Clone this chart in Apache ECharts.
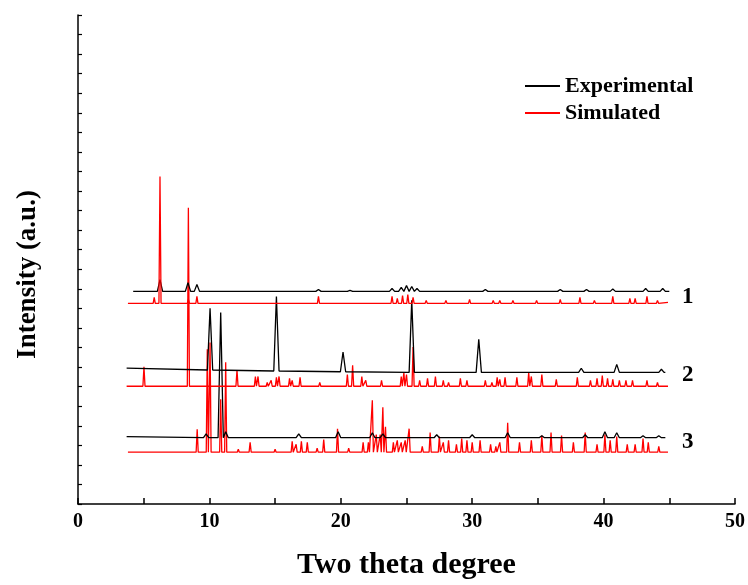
<!DOCTYPE html>
<html>
<head>
<meta charset="utf-8">
<script src="https://cdn.jsdelivr.net/npm/echarts@6/dist/echarts.min.js"></script>
<style>html,body{margin:0;padding:0;background:#fff}#c{width:748px;height:585px}</style>
</head>
<body>
<div id="c"></div>
<script>
// ---- data (2θ in degrees, intensity in arbitrary units) ----
const traceNames = ['1', '2', '3'];
const seriesNames = ['Experimental', 'Simulated'];

// stacking offsets (baseline of each trace)
const exp1Offset = 10.87, sim1Offset = 10.26;
const exp2Offset = 6.73,  sim2Offset = 6.02;
const exp3Offset = 3.39,  sim3Offset = 2.65;

// start / end of each trace: [2θ, value above offset]
const exp1Range = [[4.2, 0], [45.0, 0]];
const sim1Range = [[3.8, 0], [44.9, 0.05]];
const exp2Range = [[3.7, 0.22], [44.7, 0]];
const sim2Range = [[3.7, 0], [44.9, 0]];
const exp3Range = [[3.7, 0.05], [44.7, 0]];
const sim3Range = [[3.8, 0], [44.9, 0]];

// peaks: [2θ, height above offset, (optional) local baseline above offset]
const exp1Peaks = [[6.24, 0.6], [8.37, 0.45], [9.05, 0.35], [18.3, 0.1], [20.7, 0.05], [23.9, 0.15], [24.6, 0.2],
  [25.0, 0.3], [25.4, 0.25], [25.8, 0.15], [31.0, 0.1], [36.7, 0.1], [38.7, 0.1], [40.7, 0.12], [43.2, 0.15], [44.5, 0.15]];
const sim1Peaks = [[5.3, 0.1], [5.8, 0.3], [6.24, 6.48], [8.4, 0.2], [9.05, 0.35], [18.3, 0.35], [20.2, 0.1],
  [23.9, 0.35], [24.3, 0.25], [24.7, 0.4], [25.1, 0.45], [25.5, 0.3], [26.5, 0.15], [28.0, 0.15], [29.8, 0.2],
  [31.6, 0.15], [32.1, 0.15], [33.1, 0.15], [34.9, 0.15], [36.7, 0.2], [38.2, 0.3], [39.3, 0.15], [40.7, 0.35],
  [42.0, 0.25], [42.4, 0.25], [43.3, 0.35], [44.1, 0.15]];
const exp2Peaks = [[10.05, 3.27, 0.12], [15.1, 3.88, 0.07], [20.17, 1.04, 0.03], [25.4, 3.68, 0.0],
  [30.5, 1.69, 0.0], [38.3, 0.21, 0.0], [41.0, 0.41, 0.0], [44.4, 0.16, 0.0]];
const sim2Peaks = [[5.02, 1.0], [8.4, 9.13], [12.1, 0.83], [13.5, 0.5], [13.7, 0.5], [14.4, 0.2], [14.7, 0.3],
  [15.1, 0.45], [15.3, 0.5], [16.1, 0.4], [16.3, 0.3], [16.9, 0.45], [18.4, 0.2], [20.5, 0.6], [20.9, 1.07],
  [21.6, 0.5], [21.9, 0.3], [23.1, 0.3], [24.6, 0.5], [24.8, 0.7], [25.0, 0.6], [25.5, 2.0], [26.0, 0.3],
  [26.6, 0.4], [27.2, 0.5], [27.8, 0.3], [28.2, 0.2], [29.1, 0.4], [29.6, 0.3], [31.0, 0.3], [31.5, 0.2],
  [31.9, 0.45], [32.1, 0.35], [32.5, 0.45], [33.4, 0.45], [34.3, 0.7], [34.5, 0.5], [35.3, 0.6], [36.4, 0.35],
  [38.0, 0.45], [39.0, 0.3], [39.5, 0.4], [39.9, 0.55], [40.3, 0.4], [40.7, 0.35], [41.2, 0.3], [41.7, 0.3],
  [42.2, 0.3], [43.3, 0.3], [44.1, 0.2]];
const exp3Peaks = [[9.75, 0.2], [10.86, 6.4], [11.24, 0.3], [16.8, 0.2], [19.8, 0.3], [22.4, 0.25], [23.2, 0.2],
  [27.3, 0.15], [30.0, 0.15], [32.7, 0.25], [35.3, 0.1], [38.6, 0.15], [40.1, 0.3], [41.0, 0.25], [43.0, 0.1],
  [44.2, 0.1]];
const sim3Peaks = [[9.07, 1.17], [9.84, 5.26], [10.05, 5.6], [10.86, 2.7], [11.24, 4.6], [12.2, 0.15], [13.1, 0.5],
  [15.0, 0.15], [16.3, 0.55], [16.6, 0.4], [17.0, 0.55], [17.45, 0.5], [18.2, 0.2], [18.7, 0.65], [19.75, 1.2],
  [20.6, 0.2], [21.7, 0.5], [22.1, 0.5], [22.4, 2.65], [22.7, 0.9], [23.0, 0.9], [23.2, 2.3], [23.4, 1.3],
  [24.0, 0.5], [24.3, 0.6], [24.6, 0.5], [24.9, 0.6], [25.2, 1.2], [26.2, 0.3], [26.8, 1.0], [27.5, 0.8],
  [27.8, 0.5], [28.2, 0.6], [28.8, 0.4], [29.2, 0.7], [29.6, 0.6], [30.0, 0.5], [30.6, 0.6], [31.4, 0.4],
  [31.8, 0.3], [32.1, 0.5], [32.7, 1.5], [33.6, 0.5], [34.5, 0.6], [35.3, 0.85], [36.0, 1.0], [36.8, 0.85],
  [37.7, 0.5], [38.6, 1.0], [39.5, 0.4], [40.1, 0.9], [40.5, 0.6], [41.0, 0.8], [41.8, 0.4], [42.4, 0.4],
  [43.0, 0.7], [43.4, 0.5], [44.2, 0.3]];

// ---- build polylines from the read values ----
function buildTrace(range, peaks, offset, hw) {
  const pts = [[range[0][0], offset + range[0][1]]];
  peaks.forEach(function (p) {
    const b = p.length > 2 ? p[2] : 0;
    pts.push([p[0] - hw, offset + b], [p[0], offset + p[1]], [p[0] + hw, offset + b]);
  });
  pts.push([range[1][0], offset + range[1][1]]);
  return pts;
}
const EXP_HW = 0.2, SIM_HW = 0.08;
const FONT = '"Liberation Serif", "Times New Roman", serif';

function lineSeries(name, data, color, z) {
  return {
    name: name, type: 'line', data: data, symbol: 'none', showSymbol: false,
    lineStyle: { color: color, width: 1.3 }, itemStyle: { color: color },
    animation: false, z: z
  };
}

const series = [
  lineSeries(seriesNames[1], buildTrace(sim3Range, sim3Peaks, sim3Offset, SIM_HW), '#ff0000', 2),
  lineSeries(seriesNames[0], buildTrace(exp3Range, exp3Peaks, exp3Offset, EXP_HW), '#000000', 3),
  lineSeries(seriesNames[1], buildTrace(sim2Range, sim2Peaks, sim2Offset, SIM_HW), '#ff0000', 4),
  lineSeries(seriesNames[0], buildTrace(exp2Range, exp2Peaks, exp2Offset, EXP_HW), '#000000', 5),
  lineSeries(seriesNames[0], buildTrace(exp1Range, exp1Peaks, exp1Offset, EXP_HW), '#000000', 6),
  lineSeries(seriesNames[1], buildTrace(sim1Range, sim1Peaks, sim1Offset, SIM_HW), '#ff0000', 7),
  {
    name: 'labels', type: 'scatter', symbolSize: 1, silent: true, animation: false,
    itemStyle: { color: 'rgba(0,0,0,0)' },
    data: [
      [46.4, (exp1Offset + sim1Offset) / 2, traceNames[0]],
      [46.4, (exp2Offset + sim2Offset) / 2 + 0.2, traceNames[1]],
      [46.4, (exp3Offset + sim3Offset) / 2 + 0.15, traceNames[2]]
    ],
    label: {
      show: true, position: 'inside', formatter: function (p) { return p.value[2]; },
      fontFamily: FONT, fontWeight: 'bold', fontSize: 23, color: '#000000',
      textBorderWidth: 0, textBorderColor: 'transparent', opacity: 1
    },
    emphasis: { disabled: true }
  }
];

const chart = echarts.init(document.getElementById('c'), null, { renderer: 'canvas' });
chart.setOption({
  backgroundColor: '#fff',
  animation: false,
  grid: { left: 78, right: 13, top: 15, bottom: 80, containLabel: false },
  legend: {
    data: seriesNames.map(function (n) { return { name: n, icon: 'rect' }; }),
    orient: 'vertical', left: 520, top: 70,
    itemWidth: 35, itemHeight: 2, itemGap: 5, selectedMode: false,
    textStyle: { fontFamily: FONT, fontWeight: 'bold', fontSize: 22, color: '#000', lineHeight: 22 }
  },
  xAxis: {
    type: 'value', min: 0, max: 50, interval: 10,
    name: 'Two theta degree', nameLocation: 'middle', nameGap: 46,
    nameTextStyle: { fontFamily: FONT, fontWeight: 'bold', fontSize: 30, color: '#000' },
    axisLine: { show: true, onZero: false, lineStyle: { color: '#000', width: 1.5 } },
    axisTick: { show: true, inside: true, length: 6, lineStyle: { color: '#000', width: 1.5 } },
    minorTick: { show: true, splitNumber: 2, length: 6, lineStyle: { color: '#000', width: 1.5 } },
    axisLabel: { fontFamily: FONT, fontWeight: 'bold', fontSize: 20, color: '#000', margin: 8 },
    splitLine: { show: false }, minorSplitLine: { show: false }
  },
  yAxis: {
    type: 'value', min: 0, max: 25, interval: 1,
    name: 'Intensity (a.u.)', nameLocation: 'middle', nameGap: 36,
    nameTextStyle: { fontFamily: FONT, fontWeight: 'bold', fontSize: 27, color: '#000', padding: [0, 30, 0, 0] },
    axisLine: { show: true, onZero: false, lineStyle: { color: '#000', width: 1.5 } },
    axisTick: { show: true, inside: true, length: 4, lineStyle: { color: '#000', width: 1.2 } },
    axisLabel: { show: false },
    splitLine: { show: false }
  },
  series: series
});
</script>
</body>
</html>
